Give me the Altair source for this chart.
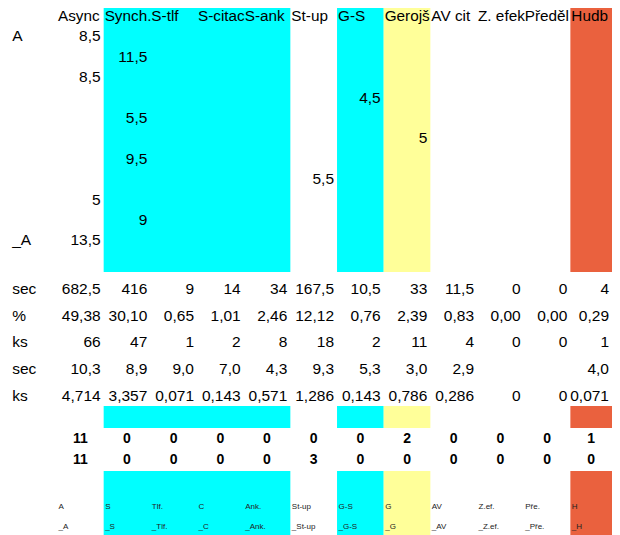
import altair as alt
import pandas as pd

FONT = "Liberation Sans"

# ---- data -------------------------------------------------------------
columns = ["Async", "Synch.", "S-tlf", "S-citac", "S-anke", "St-up",
           "G-S", "Gerojš", "AV cit", "Z. efek", "Předěl", "Hudb"]
col_colors = [None, "#00FFFF", "#00FFFF", "#00FFFF", "#00FFFF", None,
              "#00FFFF", "#FFFF99", None, None, None, "#EA613E"]

grid_rows = [1, 2, 3, 4, 5, 6, 7, 8, 9, 10, 11]
grid_cols = [0, 1, 0, 6, 1, 7, 1, 5, 0, 1, 0]
grid_vals = [8.5, 11.5, 8.5, 4.5, 5.5, 5, 9.5, 5.5, 5, 9, 13.5]
grid_row_labels = {1: "A", 11: "_A"}

stat_labels = ["sec", "%", "ks", "sec", "ks"]
sec_total = [682.5, 416, 9, 14, 34, 167.5, 10.5, 33, 11.5, 0, 0, 4]
pct = [49.38, 30.10, 0.65, 1.01, 2.46, 12.12, 0.76, 2.39, 0.83, 0.00, 0.00, 0.29]
ks_count = [66, 47, 1, 2, 8, 18, 2, 11, 4, 0, 0, 1]
sec_avg = [10.3, 8.9, 9.0, 7.0, 4.3, 9.3, 5.3, 3.0, 2.9, None, None, 4.0]
ks_avg = [4.714, 3.357, 0.071, 0.143, 0.571, 1.286, 0.143, 0.786, 0.286, 0, 0, 0.071]

bold_1 = [11, 0, 0, 0, 0, 0, 0, 2, 0, 0, 0, 1]
bold_2 = [11, 0, 0, 0, 0, 3, 0, 0, 0, 0, 0, 0]

short_1 = ["A", "S", "Tlf.", "C", "Ank.", "St-up", "G-S", "G", "AV", "Z.ef.", "Pře.", "H"]
short_2 = ["_A", "_S", "_Tlf.", "_C", "_Ank.", "_St-up", "_G-S", "_G", "_AV", "_Z.ef.", "_Pře.", "_H"]

# ---- layout (sheet geometry, like spreadsheet column widths / row pitches) ---
W, H = 604, 527                 # plot area (page is 620 wide incl. 8px margins)
LABEL_LEFT, FIRST_LEFT, COLW = 10.33, 57.0, 46.67
SHEET_RIGHT = 8 + W             # last column is trimmed to the visible page
UP_START, UP_PITCH = 16, 20.4
ST_START, ST_PITCH = 289, 26.7
BD_START, BD_PITCH = 439, 21.2
SM_START, SM_PITCH = 507, 20
bands = [(5, 272), (406, 428), (471, 540)]

n = len(columns)
left = [FIRST_LEFT + COLW * c for c in range(n)]
right = [min(FIRST_LEFT + COLW * (c + 1), SHEET_RIGHT) for c in range(n)]


def cz(v, dec=None):
    if v is None:
        return ""
    s = f"{v:g}" if dec is None else f"{v:.{dec}f}"
    return s.replace(".", ",")


def up_y(r):
    return UP_START + UP_PITCH * r


# merge contiguous same-coloured columns into spans
spans = []
c = 0
while c < n:
    col = col_colors[c]
    if col:
        e = c
        while e + 1 < n and col_colors[e + 1] == col:
            e += 1
        spans.append((left[c], right[e], col))
        c = e + 1
    else:
        c += 1
rect_df = pd.DataFrame([{"x": a, "x2": b, "y": y1, "y2": y2, "color": col}
                        for (a, b, col) in spans for (y1, y2) in bands])

head_df = pd.DataFrame({"x": left, "y": [up_y(0)] * n, "t": columns})

val_rows = []
for r, c, v in zip(grid_rows, grid_cols, grid_vals):
    val_rows.append({"x": right[c], "y": up_y(r), "t": cz(v)})
stats = [
    [cz(v) for v in sec_total],
    [cz(v, 2) for v in pct],
    [cz(v) for v in ks_count],
    [cz(v, 1) for v in sec_avg],
    ["0" if v == 0 else cz(v, 3) for v in ks_avg],
]
for i, row in enumerate(stats):
    for c, t in enumerate(row):
        val_rows.append({"x": right[c], "y": ST_START + ST_PITCH * i, "t": t})
val_df = pd.DataFrame(val_rows)

lab_rows = [{"x": LABEL_LEFT, "y": up_y(r), "t": t} for r, t in grid_row_labels.items()]
for i, t in enumerate(stat_labels):
    lab_rows.append({"x": LABEL_LEFT, "y": ST_START + ST_PITCH * i, "t": t})
lab_df = pd.DataFrame(lab_rows)

bold_rows = []
for i, row in enumerate([bold_1, bold_2]):
    for c, v in enumerate(row):
        bold_rows.append({"x": (left[c] + right[c]) / 2, "y": BD_START + BD_PITCH * i,
                          "t": str(v)})
bold_df = pd.DataFrame(bold_rows)

small_rows = []
for i, row in enumerate([short_1, short_2]):
    for c, t in enumerate(row):
        small_rows.append({"x": left[c], "y": SM_START + SM_PITCH * i, "t": t})
small_df = pd.DataFrame(small_rows)

# ---- scales (sheet units -> plot) -----------------------------------------
xs = alt.Scale(domain=[8, 8 + W], nice=False, zero=False)
ys = alt.Scale(domain=[8, 8 + H], reverse=True, nice=False, zero=False)
X = lambda f="x": alt.X(f"{f}:Q", scale=xs, axis=None)
Y = lambda f="y": alt.Y(f"{f}:Q", scale=ys, axis=None)

rects = alt.Chart(rect_df).mark_rect().encode(
    x=X(), x2="x2:Q", y=Y(), y2="y2:Q",
    color=alt.Color("color:N", scale=None))

head = alt.Chart(head_df).mark_text(
    align="left", baseline="middle", dx=1, font=FONT, fontSize=15.3,
    color="black", limit=47.5, ellipsis="\u200b").encode(x=X(), y=Y(), text="t:N")

vals = alt.Chart(val_df).mark_text(
    align="right", baseline="middle", dx=-3, font=FONT, fontSize=15.5,
    color="black").encode(x=X(), y=Y(), text="t:N")

labs = alt.Chart(lab_df).mark_text(
    align="left", baseline="middle", dx=1.8, font=FONT, fontSize=15.5,
    color="black").encode(x=X(), y=Y(), text="t:N")

bold = alt.Chart(bold_df).mark_text(
    align="center", baseline="middle", font=FONT, fontSize=14, fontWeight="bold",
    color="black").encode(x=X(), y=Y(), text="t:N")

small = alt.Chart(small_df).mark_text(
    align="left", baseline="middle", dx=1.5, font=FONT, fontSize=8,
    color="#222222").encode(x=X(), y=Y(), text="t:N")

chart = alt.layer(rects, head, vals, labs, bold, small).properties(
    width=W, height=H, padding=0, autosize="none"
).configure_view(stroke=None)

chart.save("out.html", embed_options={"renderer": "svg", "actions": False})
